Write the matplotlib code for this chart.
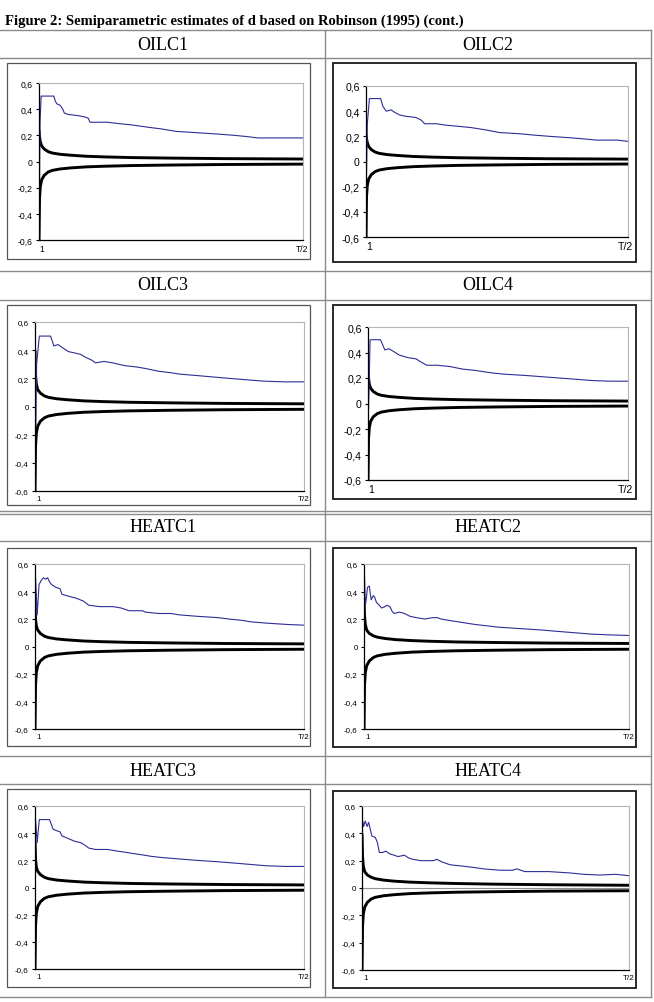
import matplotlib
matplotlib.use("Agg")
import matplotlib.pyplot as plt
from matplotlib.lines import Line2D
from matplotlib.patches import Rectangle

W, H = 654, 1003

title = "Figure 2: Semiparametric estimates of d based on Robinson (1995) (cont.)"
names = ["OILC1", "OILC2", "OILC3", "OILC4", "HEATC1", "HEATC2", "HEATC3", "HEATC4"]
ytick_vals = [-0.6, -0.4, -0.2, 0, 0.2, 0.4, 0.6]
ytick_labels = ["-0,6", "-0,4", "-0,2", "0", "0,2", "0,4", "0,6"]

# x runs from bandwidth 1 (0) to T/2 (1)
band_x = [0, 0.002, 0.005, 0.01, 0.02, 0.035, 0.05, 0.08, 0.12, 0.18, 0.25, 0.35, 0.5, 0.7, 1.0]
band_lo = [-0.62, -0.28, -0.19, -0.14, -0.105, -0.08, -0.068, -0.057, -0.049, -0.041, -0.036, -0.031, -0.027, -0.023, -0.02]
oilc1_up = [0.24, 0.19, 0.15, 0.12, 0.095, 0.075, 0.065, 0.055, 0.048, 0.04, 0.035, 0.03, 0.026, 0.022, 0.019]
oilc2_up = [0.22, 0.18, 0.15, 0.12, 0.095, 0.075, 0.065, 0.055, 0.048, 0.04, 0.035, 0.03, 0.026, 0.022, 0.019]
oilc3_up = [0.40, 0.22, 0.16, 0.12, 0.095, 0.075, 0.065, 0.055, 0.048, 0.04, 0.035, 0.03, 0.026, 0.022, 0.019]
oilc4_up = [0.30, 0.20, 0.15, 0.12, 0.095, 0.075, 0.065, 0.055, 0.048, 0.04, 0.035, 0.03, 0.026, 0.022, 0.019]
heatc1_up = [0.30, 0.20, 0.15, 0.12, 0.095, 0.075, 0.065, 0.055, 0.048, 0.04, 0.035, 0.03, 0.026, 0.022, 0.019]
heatc2_up = [0.35, 0.22, 0.16, 0.12, 0.095, 0.078, 0.068, 0.058, 0.05, 0.043, 0.038, 0.033, 0.029, 0.025, 0.022]
heatc3_up = [0.35, 0.21, 0.15, 0.12, 0.095, 0.075, 0.065, 0.055, 0.048, 0.04, 0.035, 0.03, 0.026, 0.022, 0.019]
heatc4_up = [0.40, 0.23, 0.16, 0.12, 0.095, 0.078, 0.068, 0.058, 0.05, 0.043, 0.038, 0.033, 0.028, 0.024, 0.02]

oilc1_x = [0, 0.002, 0.004, 0.008, 0.056, 0.062, 0.068, 0.08, 0.09, 0.096, 0.11, 0.15, 0.174, 0.187, 0.193,
           0.26, 0.30, 0.35, 0.385, 0.42, 0.46, 0.52, 0.60, 0.675, 0.74, 0.79, 0.83, 0.90, 0.95, 1.0]
oilc1_d = [0.20, -0.15, 0.30, 0.50, 0.50, 0.46, 0.44, 0.43, 0.40, 0.37, 0.36, 0.35, 0.34, 0.33, 0.30,
           0.30, 0.29, 0.28, 0.27, 0.26, 0.25, 0.23, 0.22, 0.21, 0.20, 0.19, 0.18, 0.18, 0.18, 0.18]
oilc2_x = [0, 0.002, 0.005, 0.013, 0.056, 0.064, 0.077, 0.096, 0.11, 0.128, 0.15, 0.19, 0.21, 0.224, 0.27,
           0.30, 0.35, 0.40, 0.43, 0.46, 0.51, 0.59, 0.64, 0.70, 0.77, 0.83, 0.88, 0.96, 1.0]
oilc2_d = [0.20, -0.10, 0.30, 0.50, 0.50, 0.44, 0.40, 0.41, 0.39, 0.37, 0.36, 0.35, 0.33, 0.30, 0.30,
           0.29, 0.28, 0.27, 0.26, 0.25, 0.23, 0.22, 0.21, 0.20, 0.19, 0.18, 0.17, 0.17, 0.16]
oilc3_x = [0, 0.003, 0.006, 0.016, 0.058, 0.07, 0.086, 0.10, 0.124, 0.148, 0.17, 0.187, 0.21, 0.225, 0.257,
           0.288, 0.334, 0.38, 0.41, 0.46, 0.505, 0.537, 0.60, 0.66, 0.72, 0.785, 0.85, 0.93, 1.0]
oilc3_d = [0.40, -0.15, 0.30, 0.50, 0.50, 0.43, 0.44, 0.42, 0.39, 0.38, 0.37, 0.35, 0.33, 0.31, 0.32,
           0.31, 0.29, 0.28, 0.27, 0.25, 0.24, 0.23, 0.22, 0.21, 0.20, 0.19, 0.18, 0.175, 0.175]
oilc4_x = [0, 0.002, 0.008, 0.048, 0.065, 0.08, 0.097, 0.12, 0.153, 0.185, 0.20, 0.226, 0.266, 0.315, 0.363,
           0.41, 0.476, 0.524, 0.605, 0.67, 0.734, 0.80, 0.863, 0.93, 1.0]
oilc4_d = [0.0, -0.05, 0.50, 0.50, 0.42, 0.43, 0.41, 0.38, 0.36, 0.35, 0.33, 0.30, 0.30, 0.29, 0.27,
           0.26, 0.24, 0.23, 0.22, 0.21, 0.20, 0.19, 0.18, 0.175, 0.175]
heatc1_x = [0, 0.002, 0.008, 0.015, 0.023, 0.031, 0.04, 0.047, 0.054, 0.062, 0.078, 0.093, 0.10, 0.117, 0.155,
            0.18, 0.20, 0.24, 0.29, 0.32, 0.35, 0.40, 0.41, 0.46, 0.505, 0.537, 0.60, 0.68, 0.72, 0.77,
            0.80, 0.86, 0.94, 1.0]
heatc1_d = [0.0, 0.50, 0.23, 0.45, 0.48, 0.50, 0.49, 0.50, 0.47, 0.45, 0.43, 0.42, 0.38, 0.37, 0.35,
            0.33, 0.30, 0.29, 0.29, 0.28, 0.26, 0.26, 0.25, 0.24, 0.24, 0.23, 0.22, 0.21, 0.20, 0.19,
            0.18, 0.17, 0.16, 0.155]
heatc2_x = [0, 0.002, 0.005, 0.009, 0.013, 0.02, 0.027, 0.035, 0.04, 0.047, 0.058, 0.066, 0.079, 0.087, 0.098,
            0.105, 0.113, 0.134, 0.153, 0.173, 0.197, 0.23, 0.26, 0.276, 0.29, 0.32, 0.354, 0.386, 0.42, 0.465,
            0.51, 0.59, 0.67, 0.73, 0.795, 0.86, 0.92, 1.0]
heatc2_d = [0.0, 0.50, 0.30, 0.35, 0.43, 0.44, 0.34, 0.37, 0.36, 0.32, 0.30, 0.28, 0.29, 0.30, 0.29,
            0.26, 0.24, 0.25, 0.24, 0.22, 0.21, 0.20, 0.21, 0.21, 0.20, 0.19, 0.18, 0.17, 0.16, 0.15,
            0.14, 0.13, 0.12, 0.11, 0.10, 0.09, 0.085, 0.08]
heatc3_x = [0, 0.002, 0.008, 0.016, 0.054, 0.067, 0.078, 0.093, 0.10, 0.124, 0.148, 0.17, 0.187, 0.20, 0.225,
            0.27, 0.30, 0.334, 0.365, 0.40, 0.43, 0.474, 0.537, 0.60, 0.677, 0.74, 0.80, 0.86, 0.93, 1.0]
heatc3_d = [-0.1, 0.50, 0.33, 0.50, 0.50, 0.43, 0.42, 0.41, 0.38, 0.36, 0.34, 0.33, 0.31, 0.29, 0.28,
            0.28, 0.27, 0.26, 0.25, 0.24, 0.23, 0.22, 0.21, 0.20, 0.19, 0.18, 0.17, 0.16, 0.155, 0.155]
heatc4_x = [0, 0.006, 0.012, 0.019, 0.025, 0.031, 0.037, 0.05, 0.058, 0.065, 0.078, 0.089, 0.104, 0.12, 0.135,
            0.159, 0.174, 0.19, 0.22, 0.268, 0.28, 0.30, 0.33, 0.377, 0.42, 0.455, 0.517, 0.564, 0.58, 0.61,
            0.70, 0.78, 0.83, 0.89, 0.95, 1.0]
heatc4_d = [0.52, 0.45, 0.49, 0.45, 0.48, 0.43, 0.38, 0.37, 0.33, 0.26, 0.26, 0.27, 0.25, 0.24, 0.23,
            0.24, 0.22, 0.21, 0.20, 0.20, 0.21, 0.19, 0.17, 0.16, 0.15, 0.14, 0.13, 0.13, 0.14, 0.12,
            0.12, 0.11, 0.10, 0.095, 0.10, 0.09]

blue_x = [oilc1_x, oilc2_x, oilc3_x, oilc4_x, heatc1_x, heatc2_x, heatc3_x, heatc4_x]
blue_d = [oilc1_d, oilc2_d, oilc3_d, oilc4_d, heatc1_d, heatc2_d, heatc3_d, heatc4_d]
uppers = [oilc1_up, oilc2_up, oilc3_up, oilc4_up, heatc1_up, heatc2_up, heatc3_up, heatc4_up]

# layout in pixels (from the reference page)
boxes = [(7, 64, 310, 260), (333, 64, 636, 263),
         (7, 306, 310, 506), (333, 306, 636, 500),
         (7, 549, 310, 747), (333, 549, 636, 748),
         (7, 790, 310, 988), (333, 792, 636, 989)]
plots = [(39, 84, 303, 241), (366, 87, 628, 238),
         (35, 323, 304, 492), (368, 328, 628, 481),
         (35, 565, 304, 730), (364, 565, 629, 730),
         (35, 807, 304, 970), (362, 807, 629, 971)]
tick_size = [6.2, 7.6, 5.8, 7.6, 5.8, 5.8, 5.8, 5.8]
header_y = [45, 45, 286, 286, 527, 527, 771, 771]
col_x = [163, 488]

fig = plt.figure(figsize=(W / 100, H / 100), dpi=100)
tf = fig.transFigure


def fx(x):
    return x / W


def fy(y):
    return 1 - y / H


fig.text(fx(5), fy(25), title, fontsize=10.5, fontweight="bold", family="Liberation Serif",
         ha="left", va="baseline")

# table grid
grid_c = "#8a8a8a"
for y in [31, 59, 272, 301, 512, 515, 542, 757, 785, 998]:
    fig.add_artist(Line2D([fx(0), fx(651)], [fy(y), fy(y)], transform=tf, color=grid_c, lw=1.0))
for x in [325, 651]:
    fig.add_artist(Line2D([fx(x), fx(x)], [fy(31), fy(998)], transform=tf, color=grid_c, lw=1.0))

for i, name in enumerate(names):
    fig.text(fx(col_x[i % 2]), fy(header_y[i]), name, fontsize=13, family="Liberation Serif",
             ha="center", va="center")

    x0, y0, x1, y1 = boxes[i]
    right_col = i % 2 == 1
    fig.add_artist(Rectangle((fx(x0), fy(y1)), fx(x1 - x0), (y1 - y0) / H, transform=tf,
                             fill=False, edgecolor="#1a1a1a" if right_col else "#555555",
                             lw=1.3 if right_col else 0.9))

    px0, py0, px1, py1 = plots[i]
    ax = fig.add_axes([fx(px0), fy(py1), fx(px1 - px0), (py1 - py0) / H])
    if i == 7:
        ax.axhline(0, color="#909090", lw=0.8)
    ax.plot(band_x, uppers[i], color="black", lw=2.1, solid_capstyle="butt")
    ax.plot(band_x, band_lo, color="black", lw=2.1, solid_capstyle="butt")
    ax.plot(blue_x[i], blue_d[i], color="#2d2d96", lw=0.8)
    ax.set_xlim(0, 1)
    ax.set_ylim(-0.6, 0.6)
    ax.set_yticks(ytick_vals)
    ax.set_yticklabels(ytick_labels, family="Liberation Sans", fontsize=tick_size[i])
    ax.tick_params(axis="y", direction="out", length=2.5, width=0.8, pad=2, colors="black")
    ax.set_xticks([])
    for s in ["top", "right"]:
        ax.spines[s].set_color("#b5b5b5")
        ax.spines[s].set_linewidth(0.8)
    for s in ["left", "bottom"]:
        ax.spines[s].set_color("black")
        ax.spines[s].set_linewidth(0.9)
    ax.text(0.012, -0.025, "1", transform=ax.transAxes, ha="center", va="top",
            family="Liberation Sans", fontsize=tick_size[i])
    ax.text(1.02, -0.025, "T/2", transform=ax.transAxes, ha="right", va="top",
            family="Liberation Sans", fontsize=tick_size[i])

fig.savefig("out.png", dpi=100)
